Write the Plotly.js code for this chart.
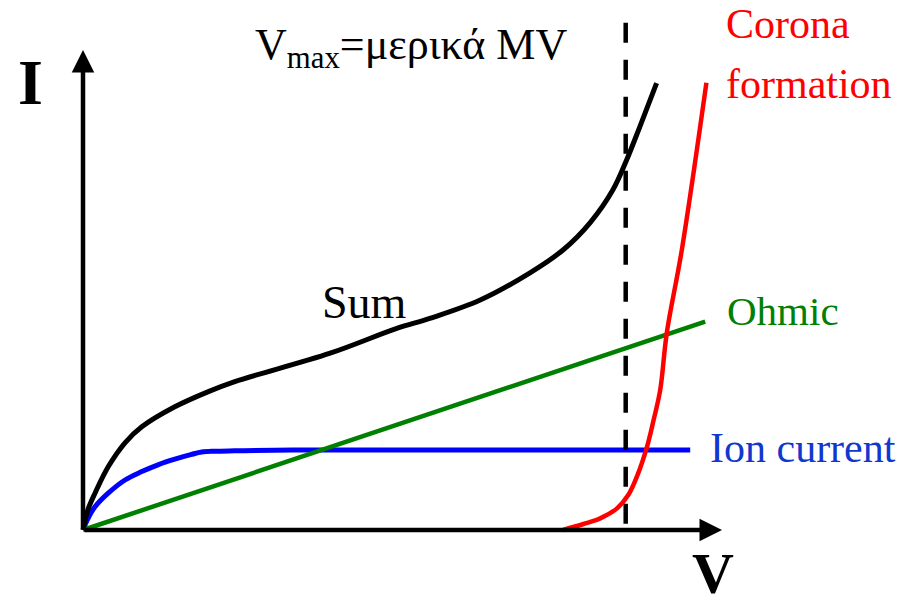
<!DOCTYPE html>
<html>
<head>
<meta charset="utf-8">
<script src="https://cdn.plot.ly/plotly-3.0.1.min.js"></script>
<style>
  html, body { margin: 0; padding: 0; background: #fff; }
  #chart { width: 908px; height: 602px; }
</style>
</head>
<body>
<div id="chart"></div>
<script>
// curves, V and I in arbitrary units
const ionV = [0, 0.08, 0.2, 0.42, 0.7, 0.98, 1.25, 1.53, 1.81, 1.98, 2.2, 2.53, 3.5, 10.12];
const ionI = [0, 0.28, 0.58, 0.92, 1.25, 1.46, 1.63, 1.77, 1.89, 1.95, 1.97, 1.98, 2.0, 2.0];

const ohmV = [0, 10.37];
const ohmI = [0, 5.21];

const sumV = [0, 0.08, 0.2, 0.42, 0.7, 0.98, 1.53, 2.09, 2.53, 4.12, 5.23, 5.78, 6.62, 7.45, 8.0, 8.45, 8.83, 9.06, 9.28, 9.56];
const sumI = [0, 0.5, 0.92, 1.58, 2.18, 2.58, 3.08, 3.46, 3.71, 4.42, 5.04, 5.29, 5.75, 6.43, 7.0, 7.68, 8.5, 9.25, 10.08, 11.17];

const coronaV = [8.0, 8.34, 8.62, 8.9, 9.09, 9.23, 9.4, 9.51, 9.62, 9.73, 9.98, 10.39];
const coronaI = [0, 0.15, 0.29, 0.54, 0.88, 1.33, 2.08, 2.75, 3.5, 4.93, 7.0, 11.18];

const vmax = 9.045;
const vmaxTop = 12.68;
const axisEndV = 10.65;
const axisEndI = 12.0;

const W = 908, H = 602;
const px = (x) => x / W;
const py = (y) => 1 - y / H;
const serif = "'Liberation Serif', 'Times New Roman', serif";

const ion = {
  x: ionV, y: ionI, mode: 'lines', type: 'scatter',
  line: { color: '#0000ff', width: 5, shape: 'spline', smoothing: 1 }
};
const ohmic = {
  x: ohmV, y: ohmI, mode: 'lines', type: 'scatter',
  line: { color: '#008000', width: 4.5 }
};
const dashed = {
  x: [vmax, vmax], y: [vmaxTop, 0], mode: 'lines', type: 'scatter',
  line: { color: '#000', width: 4.5, dash: '20px,17px' }
};
const sum = {
  x: sumV, y: sumI, mode: 'lines', type: 'scatter',
  line: { color: '#000', width: 5, shape: 'spline', smoothing: 1 }
};
const corona = {
  x: coronaV, y: coronaI, mode: 'lines', type: 'scatter',
  line: { color: '#ff0000', width: 4.5, shape: 'spline', smoothing: 1 }
};

function label(text, x, y, size, color, opts) {
  return Object.assign({
    text: text, xref: 'paper', yref: 'paper', x: px(x), y: py(y),
    xanchor: 'left', yanchor: 'middle', showarrow: false,
    font: { family: serif, size: size, color: color }
  }, opts || {});
}

const layout = {
  width: W, height: H,
  margin: { l: 0, r: 0, t: 0, b: 0 },
  paper_bgcolor: '#fff', plot_bgcolor: '#fff',
  showlegend: false,
  font: { family: serif },
  xaxis: { range: [-83 / 60, 825 / 60], visible: false, fixedrange: true },
  yaxis: { range: [-1.8, 13.25], visible: false, fixedrange: true },
  annotations: [
    // axes with arrow heads
    { x: axisEndV, y: 0, ax: 0, ay: 0, xref: 'x', yref: 'y', axref: 'x', ayref: 'y',
      text: '', showarrow: true, arrowhead: 2, arrowsize: 1, arrowwidth: 4.5, arrowcolor: '#000', standoff: 0 },
    { x: 0, y: axisEndI, ax: 0, ay: 0, xref: 'x', yref: 'y', axref: 'x', ayref: 'y',
      text: '', showarrow: true, arrowhead: 2, arrowsize: 1, arrowwidth: 4.5, arrowcolor: '#000', standoff: 0 },
    label('<b>I</b>', 30, 83, 64, '#000', { xanchor: 'center' }),
    label('<b>V</b>', 713, 573, 58, '#000', { xanchor: 'center' }),
    label('V<sub>max</sub>=μερικά MV', 253, 18, 44, '#000', { yanchor: 'top' }),
    label('Corona', 724, 24, 42, '#ff0000'),
    label('formation', 724, 84, 42, '#ff0000'),
    label('Ohmic', 725, 311, 41, '#008000'),
    label('Ion current', 708, 448, 42, '#1038d0'),
    label('Sum', 320, 302, 46, '#000')
  ]
};

Plotly.newPlot('chart', [ion, ohmic, dashed, sum, corona], layout, { staticPlot: true });
</script>
</body>
</html>
